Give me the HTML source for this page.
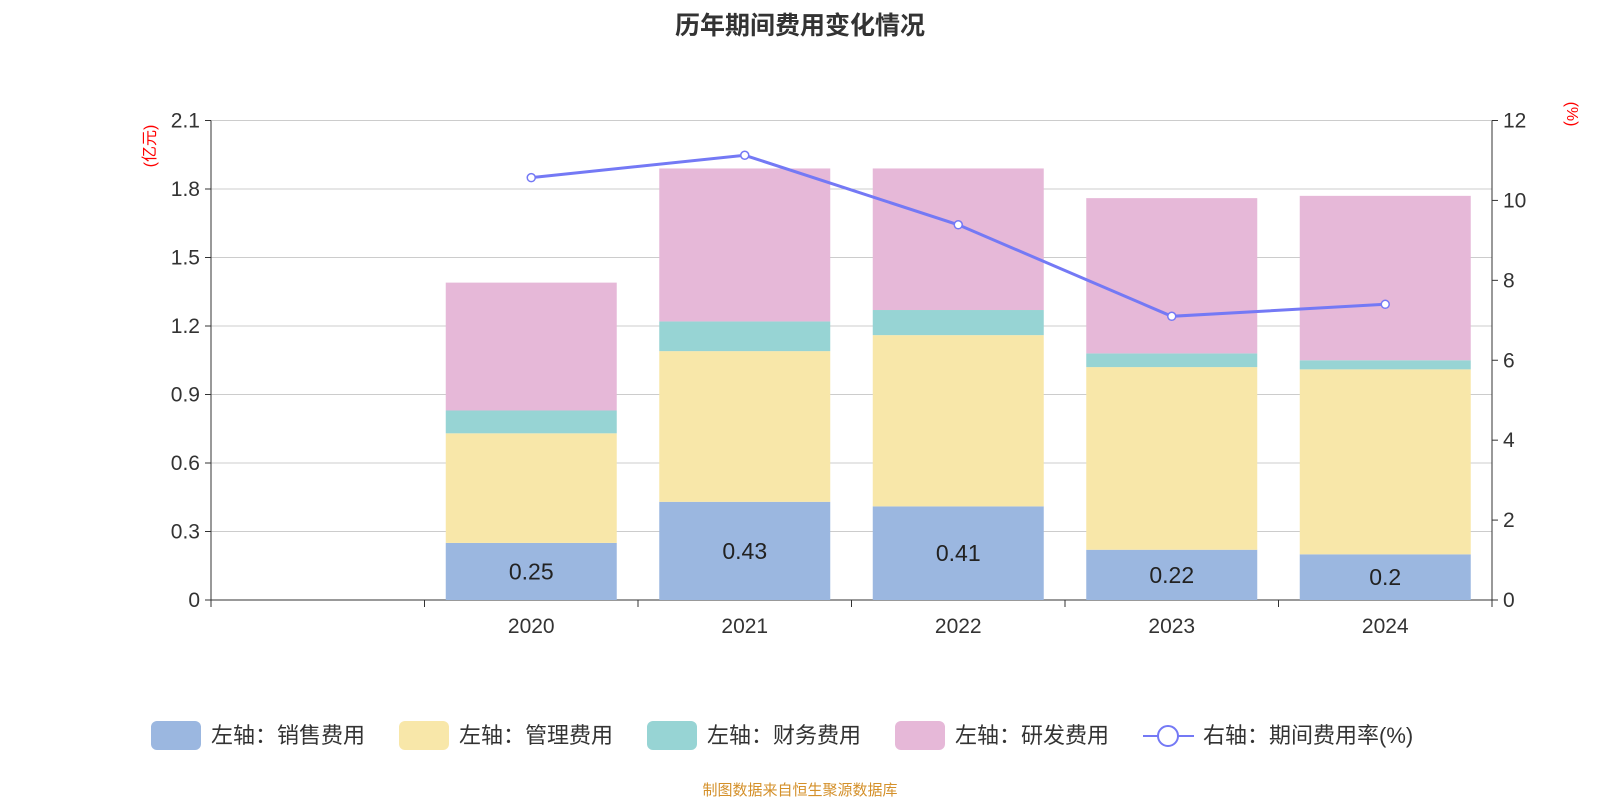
<!DOCTYPE html>
<html><head><meta charset="utf-8">
<style>
html,body{margin:0;padding:0;background:#fff;width:1600px;height:800px;overflow:hidden}
svg text{font-family:"Liberation Sans","Noto Sans CJK SC",sans-serif}
</style></head>
<body>
<svg id="chart" width="1600" height="800">
<text x="800" y="34" text-anchor="middle" font-size="25" font-weight="bold" fill="#333">历年期间费用变化情况</text>
<g id="grid"></g><g id="bars"></g><g id="axes"></g><g id="line"></g><g id="legend"></g>
<text x="800" y="795" text-anchor="middle" font-size="15" fill="#d4902a">制图数据来自恒生聚源数据库</text>
</svg>
<script>
const categories=["","2020","2021","2022","2023","2024"];
const sales=[null,0.25,0.43,0.41,0.22,0.2];
const mgmt=[null,0.48,0.66,0.75,0.80,0.81];
const fin=[null,0.10,0.13,0.11,0.06,0.04];
const rd=[null,0.56,0.67,0.62,0.68,0.72];
const rate=[null,10.57,11.13,9.39,7.10,7.40];
const leftTicks=[0,0.3,0.6,0.9,1.2,1.5,1.8,2.1];
const rightTicks=[0,2,4,6,8,10,12];

const NS="http://www.w3.org/2000/svg";
const X0=211,X1=1492,Y0=600,Y1=120.5;
const slot=(X1-X0)/categories.length;
const yL=v=>Y0-(v/2.1)*(Y0-Y1);
const yR=v=>Y0-(v/12)*(Y0-Y1);
const xC=i=>X0+slot*(i+0.5);
function mk(tag,attrs,parent,text){const e=document.createElementNS(NS,tag);for(const k in attrs)e.setAttribute(k,attrs[k]);if(text!=null)e.textContent=text;document.getElementById(parent).appendChild(e);return e;}

leftTicks.forEach(t=>{
  const y=yL(t);
  const l=mk('line',{x1:X0,x2:X1,y1:y,y2:y,stroke:t===0?'#333':'#ccc','stroke-width':1},'grid');
  
  
  const tx=mk('text',{x:X0-11,y:y+7,'text-anchor':'end','font-size':21,fill:'#333'},'axes',String(t));
  
  
  const tk=mk('line',{x1:X0-6,x2:X0,y1:y,y2:y,stroke:'#333'},'axes');
  
  
});
rightTicks.forEach(t=>{
  const y=yR(t);
  const tx=mk('text',{x:X1+11,y:y+7,'font-size':21,fill:'#333'},'axes',String(t));
  
  
  const tk=mk('line',{x1:X1,x2:X1+6,y1:y,y2:y,stroke:'#333'},'axes');
  
  
});
let a=mk('line',{x1:X0,x2:X0,y1:Y1,y2:Y0,stroke:'#333'},'axes');

a=mk('line',{x1:X1,x2:X1,y1:Y1,y2:Y0,stroke:'#333'},'axes');

for(let i=0;i<=categories.length;i++){
  const x=X0+slot*i;
  const t=mk('line',{x1:x,x2:x,y1:Y0,y2:Y0+7,stroke:'#333'},'axes');
  
  
}
categories.forEach((c,i)=>{
  const t=mk('text',{x:xC(i),y:633,'text-anchor':'middle','font-size':21,fill:'#333'},'axes',c);
  
  
});
let u=mk('text',{x:0,y:0,'font-size':16,fill:'#f00',transform:'translate(155,146) rotate(-90)','text-anchor':'middle'},'axes','(亿元)');

u=mk('text',{x:0,y:0,'font-size':16,fill:'#f00',transform:'translate(1567,114) rotate(90)','text-anchor':'middle'},'axes','(%)');


const series=[[sales,'#9bb7e0','sales'],[mgmt,'#f8e7a9','mgmt'],[fin,'#97d4d4','finance'],[rd,'#e6b8d8','rd']];
const bw=171;
categories.forEach((c,i)=>{
  if(sales[i]==null)return;
  let base=0;
  series.forEach(([arr,col,nm])=>{
    const v=arr[i];
    const r=mk('rect',{x:xC(i)-bw/2,y:yL(base+v),width:bw,height:yL(base)-yL(base+v),fill:col},'bars');
    
    
    base+=v;
  });
  const t=mk('text',{x:xC(i),y:(yL(0)+yL(sales[i]))/2+8,'text-anchor':'middle','font-size':23,fill:'#222'},'bars',String(sales[i]));
  
  
});
let pts=[];
rate.forEach((v,i)=>{if(v!=null)pts.push([xC(i),yR(v)]);});
const pl=mk('polyline',{points:pts.map(p=>p.join(',')).join(' '),fill:'none',stroke:'#7479f5','stroke-width':3},'line');


pts.forEach(p=>{
  const c=mk('circle',{cx:p[0],cy:p[1],r:4,fill:'#fff',stroke:'#7479f5','stroke-width':1.5},'line');
  
  
});
const leg=[['左轴：销售费用','#9bb7e0',151],['左轴：管理费用','#f8e7a9',399],['左轴：财务费用','#97d4d4',647],['左轴：研发费用','#e6b8d8',895]];
leg.forEach(([t,col,x])=>{
  const r=mk('rect',{x:x,y:721,width:50,height:29,rx:6,fill:col},'legend');
  
  
  const tx=mk('text',{x:x+60,y:743,'font-size':22,fill:'#333'},'legend',t);
  
  
});
let ll=mk('line',{x1:1143,x2:1194,y1:736,y2:736,stroke:'#7479f5','stroke-width':2},'legend');

ll=mk('circle',{cx:1168,cy:736,r:10,fill:'#fff',stroke:'#7479f5','stroke-width':2},'legend');

ll=mk('text',{x:1203,y:743,'font-size':22,fill:'#333'},'legend','右轴：期间费用率(%)');

</script>
</body></html>
